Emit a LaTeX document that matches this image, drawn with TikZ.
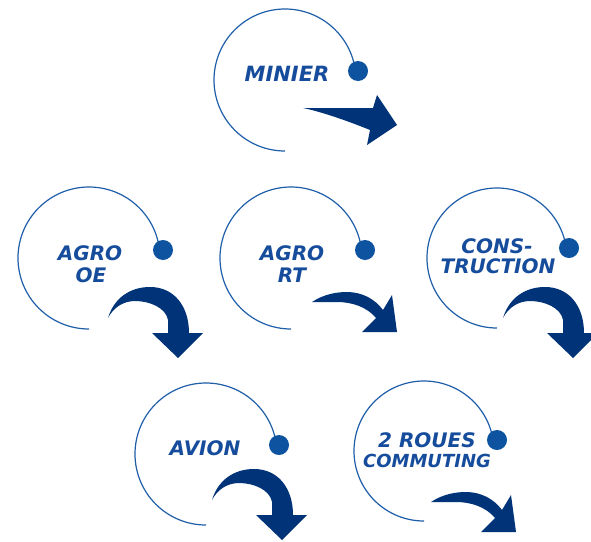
\documentclass[tikz,border=0pt]{standalone}
\usepackage{fontspec}
\newfontfamily\labelfont{DejaVu Sans}

\definecolor{textblue}{HTML}{164C9C}
\definecolor{ringblue}{HTML}{1F5FAA}
\definecolor{dotblue}{HTML}{0D539F}
\definecolor{arrownavy}{HTML}{003378}

\tikzset{
  ring/.style={draw=ringblue, line width=1.2pt},
  knob/.style={circle, fill=dotblue, inner sep=0pt, minimum size=20pt},
  lbl/.style={text=textblue, inner sep=0pt, anchor=base,
    font=\labelfont\bfseries\itshape\fontsize{20}{20}\selectfont},
  small lbl/.style={lbl, font=\labelfont\bfseries\itshape\fontsize{18}{18}\selectfont},
  % arrow that bends over and points straight down
  droparrow/.pic={
    \fill[arrownavy] (0,0) .. controls (6,-20) and (22,-31) .. (42,-31)
      .. controls (66,-31) and (81,-12) .. (81,15)
      -- (95,15) -- (70,40) -- (44,15) -- (60,15) -- (60,2)
      .. controls (58,-10) and (42,-17) .. (27,-17)
      .. controls (15,-17) and (5,-10) .. (0,0) -- cycle;
  },
  % shallow sweeping arrow pointing down-right
  sweeparrow/.pic={
    \fill[arrownavy] (0,0) .. controls (12,-8) and (25,-10) .. (35,-10)
      .. controls (50,-10) and (63,-3) .. (71,8)
      -- (80,-7) -- (85,30) -- (50,30) -- (64,16)
      .. controls (55,5) and (40,0) .. (25,0)
      .. controls (15,0) and (6,0) .. (0,0) -- cycle;
  },
  % straight wedge arrow
  wedgearrow/.pic={
    \fill[arrownavy] (0,0) -- (70,0) -- (74,-13) -- (94,17) -- (64,37) -- (67,22)
      .. controls (40,11) and (15,3) .. (0,0) -- cycle;
  },
}

\begin{document}
\begin{tikzpicture}[x=1pt, y=-1pt]
  \fill[white] (0,0) rectangle (591,541);
  \useasboundingbox (0,0) rectangle (591,541);

  % MINIER
  \draw[ring] (285,151) arc[start angle=90, end angle=350, radius=71];
  \node[knob] (dotminier) at (358,71) {};
  \node[lbl, font=\labelfont\bfseries\itshape\fontsize{21}{21}\selectfont] (minier) at (287,81) {MINIER};
  \pic at (303,108) {wedgearrow};

  % AGRO OE
  \draw[ring] (89,329) arc[start angle=90, end angle=350, radius=71];
  \node[knob] (dotagrooe) at (163,250) {};
  \node[lbl] (agrooe1) at (90,260) {AGRO};
  \node[lbl] (agrooe2) at (91,282) {OE};
  \pic at (108,318) {droparrow};

  % AGRO RT
  \draw[ring] (291,329) arc[start angle=90, end angle=350, radius=71];
  \node[knob] (dotagrort) at (365,250) {};
  \node[lbl] (agrort1) at (292,260) {AGRO};
  \node[lbl] (agrort2) at (292,282) {RT};
  \pic at (312,302) {sweeparrow};

  % CONSTRUCTION
  \draw[ring] (497,328) arc[start angle=90, end angle=350, radius=70];
  \node[knob] (dotcons) at (569,248) {};
  \node[lbl] (cons1) at (497,253) {CONS-};
  \node[lbl] (cons2) at (498,273) {TRUCTION};
  \pic at (503,318) {droparrow};

  % AVION
  \draw[ring] (206,525) arc[start angle=90, end angle=350, radius=71];
  \node[knob] (dotavion) at (279,445) {};
  \node[lbl] (avion) at (205,455) {AVION};
  \pic at (212,500) {droparrow};

  % 2 ROUES COMMUTING
  \draw[ring] (424,521) arc[start angle=90, end angle=350, radius=70];
  \node[knob] (dotroues) at (497,440) {};
  \node[lbl] (roues1) at (427,447) {2 ROUES};
  \node[small lbl] (roues2) at (427,467) {COMMUTING};
  \pic at (431,502) {sweeparrow};
\end{tikzpicture}
\end{document}
